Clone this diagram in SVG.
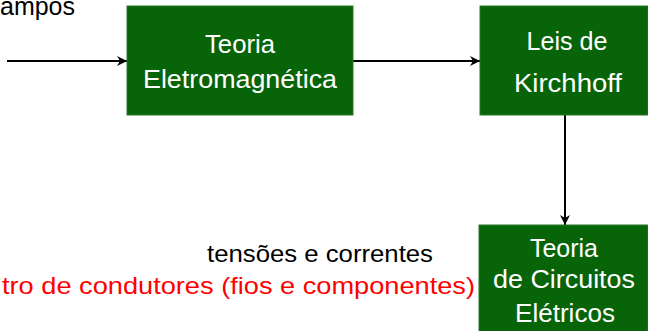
<svg xmlns="http://www.w3.org/2000/svg" width="648" height="331" viewBox="0 0 648 331">
  <defs>
    <style>
      .box { fill: #086408; stroke: #2a7a2a; stroke-width: 1; }
      .lbl { font-family: "Liberation Sans", "DejaVu Sans", sans-serif; font-size: 25px; }
      .note { font-size: 24px; }
      .w { fill: #ffffff; text-anchor: middle; }
      .k { fill: #000000; }
      .r { fill: #ff0000; }
      .edge { stroke: #000000; stroke-width: 2; fill: none; marker-end: url(#ah); }
    </style>
    <marker id="ah" markerWidth="12" markerHeight="10" refX="10" refY="5" orient="auto" markerUnits="userSpaceOnUse">
      <path d="M0,0 L10,5 L0,10 L3,5 Z" fill="#000000"/>
    </marker>
  </defs>
  <rect width="648" height="331" fill="#ffffff"/>

  <g id="connectors">
    <line class="edge" x1="7" y1="61" x2="127" y2="61"/>
    <line class="edge" x1="353" y1="61" x2="480" y2="61"/>
    <line class="edge" x1="565" y1="115" x2="565" y2="225"/>
  </g>

  <g id="campos">
    <text class="lbl k" x="75" y="15" text-anchor="end" textLength="75" lengthAdjust="spacingAndGlyphs">ampos</text>
  </g>

  <g id="teoria-eletromagnetica">
    <rect class="box" x="127" y="6" width="226" height="109"/>
    <text class="lbl w" x="240" y="53" textLength="70" lengthAdjust="spacingAndGlyphs">Teoria</text>
    <text class="lbl w" x="240" y="88" textLength="194" lengthAdjust="spacingAndGlyphs">Eletromagnética</text>
  </g>

  <g id="leis-kirchhoff">
    <rect class="box" x="480" y="6" width="168" height="109"/>
    <text class="lbl w" x="567" y="50" textLength="81" lengthAdjust="spacingAndGlyphs">Leis de</text>
    <text class="lbl w" x="568" y="92" textLength="108" lengthAdjust="spacingAndGlyphs">Kirchhoff</text>
  </g>

  <g id="teoria-circuitos">
    <rect class="box" x="479" y="225" width="169" height="107"/>
    <text class="lbl w" x="564" y="257" textLength="68" lengthAdjust="spacingAndGlyphs">Teoria</text>
    <text class="lbl w" x="564" y="288" textLength="142" lengthAdjust="spacingAndGlyphs">de Circuitos</text>
    <text class="lbl w" x="565" y="322" textLength="100" lengthAdjust="spacingAndGlyphs">Elétricos</text>
  </g>

  <g id="notes">
    <text class="lbl note k" x="433" y="262" text-anchor="end" textLength="226" lengthAdjust="spacingAndGlyphs">tensões e correntes</text>
    <text class="lbl note r" x="475" y="294" text-anchor="end" textLength="473" lengthAdjust="spacingAndGlyphs">tro de condutores (fios e componentes)</text>
  </g>
</svg>
